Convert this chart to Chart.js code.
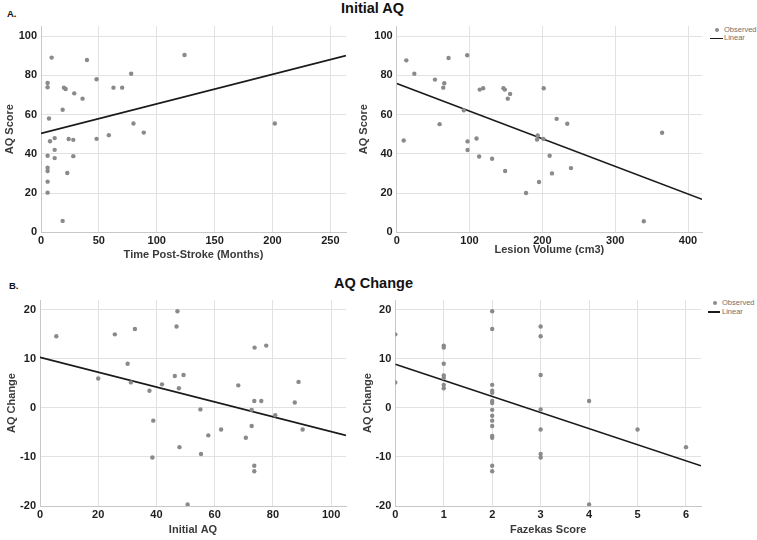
<!DOCTYPE html>
<html>
<head>
<meta charset="utf-8">
<script src="https://cdn.jsdelivr.net/npm/chart.js@4.4.1/dist/chart.umd.min.js"></script>
<style>
  body { margin: 0; background: #fff; font-family: "Liberation Sans", Arial, sans-serif; }
  #wrap { position: relative; width: 757px; height: 540px; overflow: hidden; }
  canvas { position: absolute; }
  .title { position: absolute; font-weight: bold; font-size: 14.5px; line-height: 16px; color: #111; white-space: nowrap; }
  .tag { position: absolute; font-weight: bold; font-size: 9.5px; line-height: 10px; color: #111; }
  .leg { position: absolute; font-size: 7.5px; line-height: 8px; color: #707070; white-space: nowrap; }
  .dot { position: absolute; width: 4px; height: 4px; border-radius: 2px; background: #8c8c8c; }
  .seg { position: absolute; height: 1.5px; background: #1a1a1a; }
</style>
</head>
<body>
<div id="wrap">
  <div class="tag" style="left:7px;top:9px;">A.</div>
  <div class="title" style="left:341px;top:0px;">Initial AQ</div>
  <div class="tag" style="left:9px;top:281px;">B.</div>
  <div class="title" style="left:334px;top:275px;">AQ Change</div>

  <canvas id="c1" width="347" height="250" style="left:3px;top:12px;"></canvas>
  <canvas id="c2" width="349" height="245" style="left:357px;top:12px;"></canvas>
  <canvas id="c3" width="345" height="251" style="left:5px;top:286px;"></canvas>
  <canvas id="c4" width="344" height="251" style="left:361px;top:286px;"></canvas>

  <div class="dot" style="left:715px;top:28px;"></div>
  <div class="leg" style="left:724px;top:26px;">Observed</div>
  <div class="seg" style="left:710px;top:37.5px;width:13px;"></div>
  <div class="leg" style="left:724px;top:34px;">Linear</div>

  <div class="dot" style="left:713px;top:301px;"></div>
  <div class="leg" style="left:722px;top:299px;">Observed</div>
  <div class="seg" style="left:708px;top:311px;width:12px;"></div>
  <div class="leg" style="left:722px;top:308px;">Linear</div>
</div>
<script>
// Panel A left: time post-stroke vs AQ
const timeMonths = [9.2, 39.7, 124, 77.9, 5.7, 5.7, 48, 19.8, 21.3, 28.7, 35.9, 62.6, 70.1, 18.7, 6.9, 79.9, 202, 88.8, 58.6, 7.8, 11.8, 23.9, 27.9, 48, 11.8, 5.7, 11.8, 27.9, 5.7, 5.7, 22.7, 5.7, 5.7, 18.7];
const aqByTime = [89, 87.8, 90.3, 80.8, 76.1, 73.9, 78, 73.7, 73, 70.8, 68.1, 73.7, 73.7, 62.4, 58, 55.4, 55.4, 50.8, 49.5, 46.4, 48, 47.5, 47.1, 47.6, 42, 39, 37.8, 38.8, 32.9, 31.2, 30.2, 25.8, 20.2, 5.8];
const fitTimeX = [0, 263.5];
const fitTimeY = [50.4, 90];

// Panel A right: lesion volume vs AQ
const lesionVol = [13.2, 71.2, 96.8, 24.2, 52.5, 65.3, 63.9, 114, 118.7, 146.6, 148.4, 152.5, 155.7, 201.8, 92.2, 219.6, 58.9, 234.2, 364.4, 193.6, 192.7, 201.4, 109.6, 97.3, 9.6, 97.3, 113.2, 131, 210, 239.3, 148.9, 213.2, 195.4, 177.6, 339.3];
const aqByLesion = [87.6, 88.8, 90.2, 80.8, 77.8, 75.9, 73.7, 72.7, 73.4, 73.4, 72.7, 68.1, 70.5, 73.4, 62.2, 57.8, 55.1, 55.3, 50.7, 49.3, 47.3, 47.6, 47.8, 46.3, 46.8, 41.9, 38.6, 37.5, 39, 32.7, 31.2, 30, 25.6, 20, 5.6];
const fitLesionX = [0, 419.2];
const fitLesionY = [75.8, 16.8];

// Panel B left: initial AQ vs AQ change
const initialAq = [5.6, 20, 25.7, 32.6, 30.1, 31.2, 37.6, 38.9, 38.6, 41.9, 47.2, 46.9, 46.3, 49.3, 47.7, 47.9, 50.7, 55.1, 55.3, 57.8, 62.2, 68.1, 70.7, 72.7, 72.7, 73.7, 73.6, 76, 77.7, 73.6, 73.6, 80.8, 87.5, 88.8, 90.2];
const changeByInitial = [14.6, 6.0, 15.0, 16.1, 9.0, 5.2, 3.5, -2.6, -10.1, 4.8, 19.7, 16.6, 6.5, 6.7, 4.0, -8.0, -19.7, -0.3, -9.4, -5.6, -4.4, 4.6, -6.1, -3.7, -0.4, 12.3, 1.4, 1.4, 12.7, -11.8, -12.9, -1.5, 1.1, 5.3, -4.4];
const fitInitialX = [0, 105.1];
const fitInitialY = [10.3, -5.6];

// Panel B right: Fazekas score vs AQ change
const fazekas = [0, 0, 1, 1, 1, 1, 1, 1, 1, 2, 2, 2, 2, 2, 2, 2, 2, 2, 2, 2, 2, 2, 2, 2, 3, 3, 3, 3, 3, 3, 3, 4, 4, 5, 6];
const changeByFazekas = [15.0, 5.2, 12.7, 12.3, 9.0, 6.6, 6.1, 4.7, 4.0, 19.7, 16.1, 4.7, 3.5, 3.1, 1.4, 1.0, -0.4, -1.6, -2.6, -3.7, -5.7, -6.1, -11.8, -12.9, 16.6, 14.6, 6.7, -0.3, -4.4, -9.4, -10.1, 1.4, -19.7, -4.4, -8.0];
const fitFazekasX = [0, 6.31];
const fitFazekasY = [8.9, -11.8];

// tick labels
const timeTicks = [0, 50, 100, 150, 200, 250];
const lesionTicks = [0, 100, 200, 300, 400];
const initialTicks = [0, 20, 40, 60, 80, 100];
const fazekasTicks = [0, 1, 2, 3, 4, 5, 6];
const aqTicks = [0, 20, 40, 60, 80, 100];
const changeTicks = [-20, -10, 0, 10, 20];

const tickFont = { family: 'Liberation Sans, Arial, sans-serif', size: 11, weight: 'bold' };
const axisTitleFont = { family: 'Liberation Sans, Arial, sans-serif', size: 11, weight: 'bold', lineHeight: 1.2 };

function pairs(xs, ys) {
    return xs.map((x, i) => ({ x: x, y: ys[i] }));
}

function makePanel(id, p) {
    const ctx = document.getElementById(id).getContext('2d');
    return new Chart(ctx, {
        type: 'scatter',
        data: {
            datasets: [
                {
                    label: 'Observed',
                    data: pairs(p.xs, p.ys),
                    backgroundColor: '#8a8a8a',
                    borderWidth: 0,
                    pointRadius: 2.2
                },
                {
                    label: 'Linear',
                    type: 'line',
                    data: pairs(p.fitX, p.fitY),
                    borderColor: '#1a1a1a',
                    borderWidth: 1.7,
                    pointRadius: 0,
                    fill: false
                }
            ]
        },
        options: {
            responsive: false,
            animation: false,
            layout: { padding: { top: 14, right: p.padRight, left: 0, bottom: 0 } },
            scales: {
                x: {
                    type: 'linear',
                    min: p.xMin,
                    max: p.xMax,
                    afterBuildTicks: s => { s.ticks = p.xTicks.map(v => ({ value: v })); },
                    afterFit: s => { s.height = p.xH; },
                    grid: { color: '#e2e2e2', lineWidth: 1, drawTicks: false },
                    border: { color: '#c8c8c8', width: 1 },
                    ticks: { font: tickFont, color: '#1e1e1e', padding: 2, maxRotation: 0, callback: v => String(v) },
                    title: { display: true, text: p.xTitle, font: axisTitleFont, color: '#3a3a3a', padding: 0 }
                },
                y: {
                    type: 'linear',
                    min: p.yMin,
                    max: p.yMax,
                    afterBuildTicks: s => { s.ticks = p.yTicks.map(v => ({ value: v })); },
                    afterFit: s => { s.width = p.yW; },
                    grid: { color: '#e2e2e2', lineWidth: 1, drawTicks: false },
                    border: { color: '#c8c8c8', width: 1 },
                    ticks: { font: tickFont, color: '#1e1e1e', padding: 4, callback: v => String(v) },
                    title: { display: true, text: p.yTitle, font: axisTitleFont, color: '#3a3a3a', padding: 0 }
                }
            },
            plugins: {
                legend: { display: false },
                tooltip: { enabled: true }
            }
        }
    });
}

makePanel('c1', {
    xs: timeMonths, ys: aqByTime, fitX: fitTimeX, fitY: fitTimeY,
    xMin: 0, xMax: 263.5, yMin: 0, yMax: 105.1,
    xTicks: timeTicks, yTicks: aqTicks,
    xTitle: 'Time Post-Stroke (Months)', yTitle: 'AQ Score',
    yW: 38, xH: 29.7, padRight: 3.3
});

makePanel('c2', {
    xs: lesionVol, ys: aqByLesion, fitX: fitLesionX, fitY: fitLesionY,
    xMin: 0, xMax: 419.2, yMin: 0, yMax: 105.1,
    xTicks: lesionTicks, yTicks: aqTicks,
    xTitle: 'Lesion Volume (cm3)', yTitle: 'AQ Score',
    yW: 39.7, xH: 24.7, padRight: 3.3
});

makePanel('c3', {
    xs: initialAq, ys: changeByInitial, fitX: fitInitialX, fitY: fitInitialY,
    xMin: 0, xMax: 105.1, yMin: -20, yMax: 22,
    xTicks: initialTicks, yTicks: changeTicks,
    xTitle: 'Initial AQ', yTitle: 'AQ Change',
    yW: 35, xH: 31, padRight: 3.3
});

makePanel('c4', {
    xs: fazekas, ys: changeByFazekas, fitX: fitFazekasX, fitY: fitFazekasY,
    xMin: 0, xMax: 6.31, yMin: -20, yMax: 22,
    xTicks: fazekasTicks, yTicks: changeTicks,
    xTitle: 'Fazekas Score', yTitle: 'AQ Change',
    yW: 34.3, xH: 31, padRight: 4
});
</script>
</body>
</html>
